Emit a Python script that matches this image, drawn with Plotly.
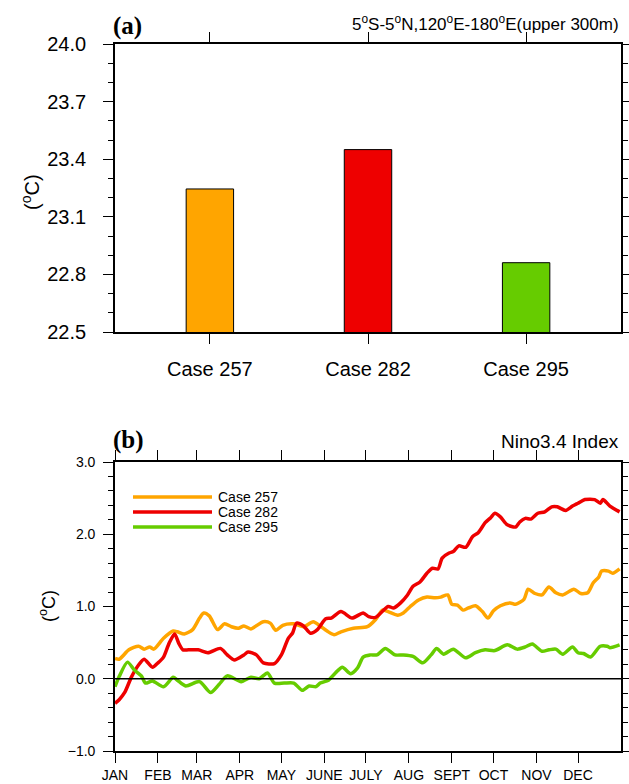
import plotly.graph_objects as go

# ---------------- data ----------------
cases = ["Case 257", "Case 282", "Case 295"]
mean_temp = [23.245, 23.45, 22.861]
bar_colors = ["#FFA500", "#EE0000", "#66CC00"]

month_days = [0, 31, 59, 90, 120, 151, 181, 212, 243, 273, 304, 334]
month_labels = ["JAN", "FEB", "MAR", "APR", "MAY", "JUNE", "JULY", "AUG", "SEPT", "OCT", "NOV", "DEC"]

c257_day = [0, 3, 10, 17, 21, 25, 28, 35, 42, 45, 50, 56, 61, 64, 68, 74, 79, 84, 89, 93, 98, 107, 112,
            116, 121, 129, 136, 143, 148, 153, 158, 163, 172, 182, 188, 193, 197, 204, 208, 213, 219,
            225, 231, 235, 240, 243, 247, 251, 255, 260, 265, 269, 273, 278, 285, 289, 295, 298, 303,
            308, 313, 318, 323, 331, 336, 341, 345, 349, 351, 356, 359, 364]
c257_val = [0.28, 0.27, 0.40, 0.45, 0.41, 0.44, 0.41, 0.56, 0.66, 0.65, 0.62, 0.68, 0.84, 0.91, 0.87,
            0.68, 0.76, 0.72, 0.70, 0.73, 0.69, 0.79, 0.77, 0.67, 0.74, 0.76, 0.72, 0.79, 0.73, 0.66,
            0.61, 0.65, 0.70, 0.72, 0.82, 0.95, 0.93, 0.88, 0.91, 1.00, 1.09, 1.13, 1.12, 1.13, 1.16,
            1.03, 1.02, 0.95, 0.98, 1.01, 0.93, 0.84, 0.94, 1.01, 1.05, 1.03, 1.10, 1.24, 1.18, 1.16,
            1.27, 1.19, 1.16, 1.24, 1.18, 1.19, 1.33, 1.41, 1.49, 1.49, 1.46, 1.52]

c282_day = [0, 3, 7, 12, 17, 21, 27, 31, 35, 39, 43, 46, 49, 53, 60, 67, 76, 81, 86, 93, 96, 102, 107,
            115, 120, 125, 128, 131, 136, 141, 146, 152, 156, 163, 171, 179, 183, 188, 197, 201, 206,
            211, 215, 220, 225, 229, 233, 236, 241, 244, 248, 253, 258, 262, 267, 271, 274, 278, 283,
            289, 292, 296, 300, 305, 310, 315, 319, 325, 330, 334, 339, 346, 350, 352, 357, 364]
c282_val = [-0.34, -0.29, -0.19, 0.03, 0.19, 0.27, 0.16, 0.22, 0.30, 0.49, 0.62, 0.49, 0.40, 0.40,
            0.40, 0.36, 0.42, 0.33, 0.26, 0.33, 0.37, 0.33, 0.22, 0.21, 0.33, 0.56, 0.63, 0.77, 0.73,
            0.63, 0.68, 0.83, 0.84, 0.93, 0.84, 0.91, 0.86, 0.85, 1.00, 0.98, 1.05, 1.16, 1.28, 1.34,
            1.46, 1.53, 1.52, 1.67, 1.74, 1.76, 1.84, 1.82, 1.97, 2.02, 2.16, 2.23, 2.29, 2.24, 2.13,
            2.10, 2.17, 2.22, 2.21, 2.29, 2.31, 2.38, 2.38, 2.33, 2.39, 2.43, 2.48, 2.48, 2.43, 2.48,
            2.39, 2.31]

c295_day = [0, 3, 9, 14, 19, 22, 27, 35, 42, 45, 51, 61, 69, 75, 81, 91, 98, 104, 110, 115, 122, 129,
            135, 140, 145, 148, 154, 159, 164, 170, 175, 179, 184, 189, 195, 202, 208, 215, 222, 228,
            232, 237, 244, 253, 260, 267, 274, 283, 290, 296, 301, 308, 313, 318, 323, 330, 334, 338,
            343, 350, 355, 357, 364]
c295_val = [-0.11, 0.03, 0.23, 0.12, 0.04, -0.06, -0.03, -0.11, 0.02, -0.02, -0.10, -0.04, -0.19,
            -0.08, 0.04, -0.04, 0.02, 0.00, 0.08, -0.06, -0.06, -0.06, -0.16, -0.10, -0.11, -0.06,
            -0.02, 0.08, 0.16, 0.07, 0.15, 0.30, 0.33, 0.33, 0.42, 0.33, 0.33, 0.31, 0.22, 0.33, 0.42,
            0.34, 0.41, 0.29, 0.36, 0.40, 0.39, 0.47, 0.41, 0.44, 0.48, 0.38, 0.40, 0.41, 0.34, 0.44,
            0.36, 0.35, 0.30, 0.45, 0.45, 0.43, 0.47]

series = [("Case 257", c257_day, c257_val, "#FFA500"),
          ("Case 282", c282_day, c282_val, "#EE0000"),
          ("Case 295", c295_day, c295_val, "#66CC00")]

# ---------------- figure ----------------
W, H = 629, 784
SANS = "Liberation Sans, Arial, Helvetica, sans-serif"
SERIF = "Liberation Serif, Times New Roman, serif"

def px_x(p):
    return p / W

def px_y(p):
    return 1 - p / H

fig = go.Figure()

fig.add_trace(go.Bar(
    x=list(range(len(cases))), y=mean_temp, width=0.3,
    marker=dict(color=bar_colors, line=dict(color="black", width=1)),
    xaxis="x", yaxis="y", showlegend=False))

for name, d, v, c in series:
    fig.add_trace(go.Scatter(
        x=d, y=v, mode="lines", name=name,
        line=dict(color=c, width=3.5, shape="spline", smoothing=0.7),
        xaxis="x2", yaxis="y2", showlegend=False))

axis_common = dict(showline=True, linecolor="black", linewidth=1.6, mirror="allticks",
                   ticks="outside", tickcolor="black", tickwidth=1.4, ticklen=10,
                   showgrid=False, zeroline=False, automargin=False)

minor_common = dict(ticklen=5, tickcolor="black", tickwidth=1.4, ticks="outside", showgrid=False)

fig.update_layout(
    width=W, height=H,
    margin=dict(l=0, r=0, t=0, b=0, autoexpand=False),
    paper_bgcolor="white", plot_bgcolor="white",
    showlegend=False,
    font=dict(family=SANS, color="black"),
    xaxis=dict(domain=[px_x(115), px_x(621)], anchor="y", range=[-0.6, 2.6],
               tickvals=list(range(len(cases))), ticktext=cases,
               tickfont=dict(size=20), ticklabelstandoff=8, **axis_common),
    yaxis=dict(domain=[px_y(332), px_y(44)], anchor="x", range=[22.5, 24.0],
               tick0=22.5, dtick=0.3, tickformat=".1f",
               tickfont=dict(size=20), ticklabelstandoff=13,
               minor=dict(dtick=0.1, tick0=22.5, **minor_common),
               **axis_common),
    xaxis2=dict(domain=[px_x(115), px_x(621)], anchor="y2", range=[0, 365],
                tickvals=month_days, ticktext=month_labels,
                tickfont=dict(size=14), ticklabelstandoff=0, **axis_common),
    yaxis2=dict(domain=[px_y(751), px_y(462)], anchor="x2", range=[-1.0, 3.0],
                tick0=0, dtick=1.0, tickformat=".1f",
                tickfont=dict(size=14), ticklabelstandoff=5,
                minor=dict(dtick=0.2, tick0=0, **minor_common),
                **axis_common),
)

# zero line in panel b
fig.add_hline(y=0, line=dict(color="black", width=1.5), xref="x2", yref="y2")

annotations = [
    dict(text="<b>(a)</b>", x=px_x(111), y=px_y(42), xanchor="left", yanchor="bottom",
         font=dict(family=SERIF, size=25)),
    dict(text="5<sup>o</sup>S-5<sup>o</sup>N,120<sup>o</sup>E-180<sup>o</sup>E(upper 300m)",
         x=px_x(621), y=px_y(36), xanchor="right", yanchor="bottom", font=dict(size=17)),
    dict(text="(<sup>o</sup>C)", x=px_x(30), y=px_y(192), textangle=-90,
         xanchor="center", yanchor="middle", font=dict(size=20)),
    dict(text="<b>(b)</b>", x=px_x(111), y=px_y(456), xanchor="left", yanchor="bottom",
         font=dict(family=SERIF, size=25)),
    dict(text="Nino3.4 Index", x=px_x(621), y=px_y(454), xanchor="right", yanchor="bottom",
         font=dict(size=19)),
    dict(text="(<sup>o</sup>C)", x=px_x(47), y=px_y(606), textangle=-90,
         xanchor="center", yanchor="middle", font=dict(size=18)),
]

# legend (panel b)
leg_y = [497, 512, 527]
for (name, d, v, c), ly in zip(series, leg_y):
    fig.add_shape(type="line", xref="paper", yref="paper",
                  x0=px_x(133), x1=px_x(212), y0=px_y(ly), y1=px_y(ly),
                  line=dict(color=c, width=3.5))
    annotations.append(dict(text=name, x=px_x(216), y=px_y(ly), xanchor="left",
                            yanchor="middle", font=dict(size=14)))

for a in annotations:
    a.update(xref="paper", yref="paper", showarrow=False)
fig.update_layout(annotations=annotations)

fig.write_html("out.html")
